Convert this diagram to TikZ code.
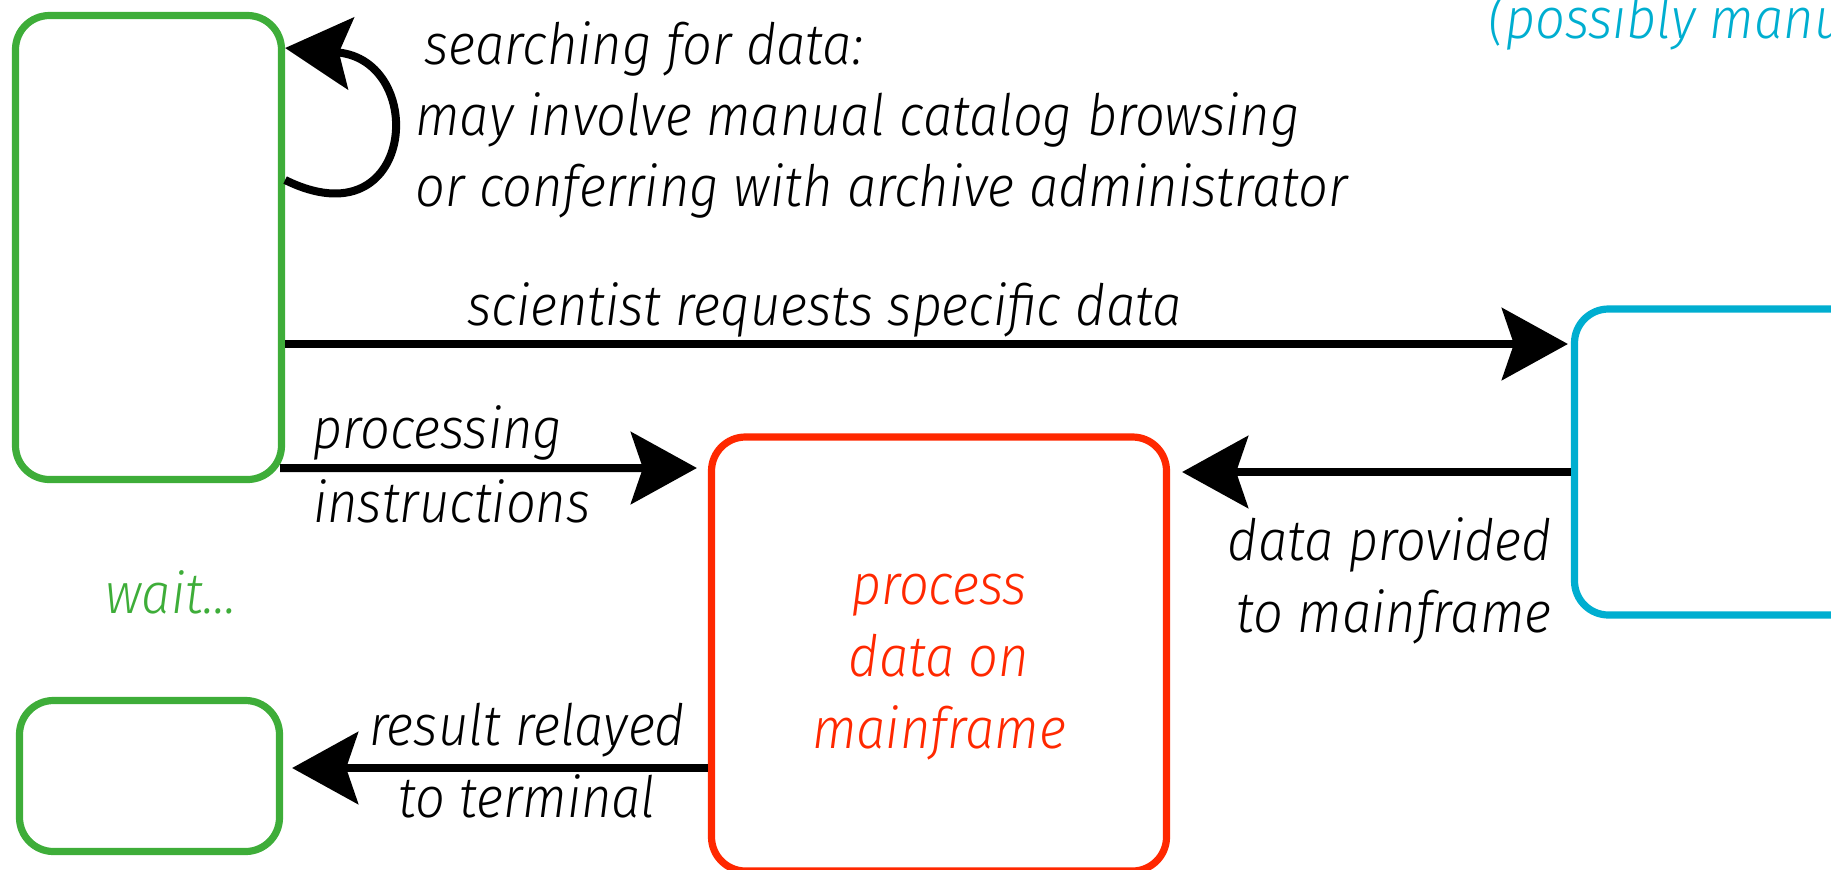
\documentclass[tikz,border=0pt]{standalone}
\usepackage{fontspec}
\newfontfamily\thinit{Fira Sans Light Italic}[FakeStretch=0.92]
\usetikzlibrary{arrows.meta, positioning}

\definecolor{termgreen}{RGB}{62,173,57}
\definecolor{archiveblue}{RGB}{0,174,208}
\definecolor{mainred}{RGB}{255,40,0}

\begin{document}
\begin{tikzpicture}[x=0.5pt, y=-0.5pt,
  >={Stealth[length=33pt, width=36pt, inset=6pt]},
  box/.style={draw, line width=3.6pt, rounded corners=17pt, inner sep=0pt},
  note/.style={font=\thinit\fontsize{28.5}{36}\selectfont, inner sep=0pt},
  flow/.style={->, line width=4pt}]

\useasboundingbox (0,0) rectangle (1831,869);
\clip (0,0) rectangle (1831,869);

% terminal, mainframe and archive
\node[box, termgreen, minimum width=133pt, minimum height=232pt] (term) at (148.5,247.5) {};
\node[box, termgreen, minimum width=130pt, minimum height=75.5pt] (result) at (149.5,776) {};
\node[box, mainred, note, align=center, text=mainred, text height=94pt, text depth=0pt,
  minimum width=227.5pt, minimum height=217pt] (mainframe) at (939,654) {process\\data on\\mainframe};
\node[box, archiveblue, minimum width=187.5pt, minimum height=153pt] (archive) at (1762,462) {};

% texts
\node[note, font=\thinit\fontsize{28.5}{35.5}\selectfont, anchor=base west, align=left] (searchnote) at (415,206)
  {\hspace*{4.5pt}searching for data:\\may involve manual catalog browsing\\or conferring with archive administrator};
\node[note, anchor=base west] (requestnote) at (467,325) {scientist requests specific data};
\node[note, anchor=base west] (procnote) at (312,448) {processing};
\node[note, anchor=base west] (instrnote) at (313,522) {instructions};
\node[note, anchor=base east, align=right] (providednote) at (1552,632) {data provided\\to mainframe};
\node[note, anchor=base] (relaynote) at (527,745) {result relayed};
\node[note, anchor=base] (terminalnote) at (527,817) {to terminal};
\node[note, anchor=base west, text=termgreen] (waitnote) at (105,613) {wait...};
\node[note, anchor=base west, text=archiveblue] (manualnote) at (1488,38) {(possibly manual)};

% messages
\draw[flow]
([yshift=33.75pt]term.east) .. controls +(65pt,-32pt) and +(72pt,-6pt) .. ([yshift=99.75pt]term.east);
\path[flow]
([yshift=-48.25pt]term.east) edge[shorten >=1.5pt] ([yshift=59pt]archive.west)
([shift={(-2.5pt,7.5pt)}]term.south east) edge[shorten >=5.5pt] ([yshift=93pt]mainframe.west)
([yshift=-5pt]archive.west) edge[shorten >=6pt] ([yshift=91pt]mainframe.east)
([yshift=-57pt]mainframe.west) edge[shorten >=4.5pt] ([yshift=4pt]result.east);

\end{tikzpicture}
\end{document}
